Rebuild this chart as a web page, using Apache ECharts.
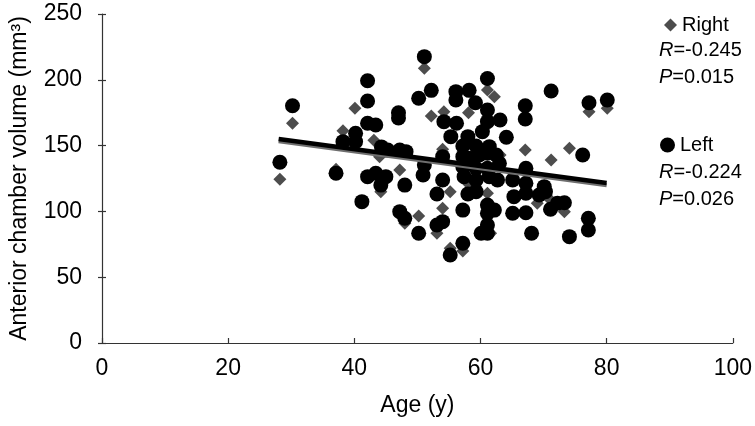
<!DOCTYPE html>
<html>
<head>
<meta charset="utf-8">
<script src="https://cdn.jsdelivr.net/npm/echarts@6/dist/echarts.min.js"></script>
<style>html,body{margin:0;padding:0;background:#fff}#c{width:755px;height:426px}</style>
</head>
<body>
<div id="c"></div>
<script>
// Right eye (diamonds): [age, volume]
const rightData = [
  [28.2,124.4],[30.2,167],[40.1,178.3],[38.2,161.3],[43.1,154],[44,141.6],[47.2,131.5],[37.1,132],
  [44.2,115],[48,91],[51.1,208.7],[61.1,192.2],[62.2,187.2],[54.2,175.8],[52.2,172.5],[58.1,175],
  [54,147.2],[59.2,149.2],[67.1,146.7],[71.2,139],[63.1,142.9],[58,121.4],[55.2,115],[61.1,113.8],
  [69,106.2],[71.1,108.7],[50.2,96.5],[54,102.4],[53.1,83.4],[61.6,83.4],[55.2,72],[57.2,70],
  [77.2,175.8],[80.1,178.3],[74.1,148],[73.3,99.8]
];
// Left eye (circles): [age, volume]
const leftData = [
  [30.2,180.3],[28.2,137.3],[42.1,199.3],[42.1,183.9],[47,175],[47,171],[42.1,167],[43.4,165.7],
  [40.2,159.3],[40.2,153],[38.2,153],[44.3,149],[45.3,146.6],[47.2,146.6],[37.1,129],[42.1,126.4],
  [43.4,129],[45,126.4],[44.2,120],[48,120],[41.2,107.4],[47.2,99.8],[48,94.8],
  [51.1,217.6],[61.1,201],[71.2,191.5],[52.2,192],[50.2,186],[56.1,191],[58.2,192],[56.1,184.7],
  [59.2,182.6],[61.1,177],[67.1,180.3],[67.1,170.2],[54.2,168.2],[56.2,167],[61.1,168.2],[63.1,169.4],
  [60.3,160.6],[55.3,156.8],[58,156.8],[64.1,156.3],[57.2,149.7],[59.3,149.7],[61.4,149.2],[48.2,145.4],
  [54,141.6],[57.2,141.6],[58.2,140.3],[59.8,142.9],[61.1,144.2],[62.5,142.9],[51.1,135.3],[57.2,134],
  [59.3,132.8],[61.1,132.8],[63,136.5],[50.9,127.7],[54,123.9],[67.2,132.8],[57.4,126.4],[59.3,123.9],
  [61.4,126.4],[62.7,123.9],[65.1,123.9],[67.2,121.4],[70.1,118.8],
  [53.1,113.2],[58,113.2],[59.3,115],[65.3,111.2],[67.2,113.8],[69.3,112.5],[70.3,115],[71.1,101.6],
  [72.2,106.2],[57.2,101],[61.1,104.9],[62.2,101],[61.1,98.6],[65.1,98.6],[67.2,99],[53.1,89.7],
  [54,92.2],[50.2,83.4],[60.1,83.4],[61.1,89.7],[61.1,83.4],[68.1,83.4],[57.2,75.8],[55.2,66.9],
  [77.2,182.6],[80.1,184.7],[76.2,142.9],[73.3,106.6],[77.1,94.8],[77.1,85.9],[74.1,80.8]
];
// Trend line end points
const rightTrend = [[28,153.3],[80,119.8]];
const leftTrend = [[28,155],[80,121.6]];
const xTicks = [0,20,40,60,80,100];
const yTicks = [0,50,100,150,200,250];
const rightStats = ['-0.245','0.015'];
const leftStats = ['-0.224','0.026'];

const FONT = 'Liberation Sans, Arial, sans-serif';
const chart = echarts.init(document.getElementById('c'));
const statText = (s) => '{i|R}=' + s[0] + '\n{i|P}=' + s[1];
const richI = {i: {fontStyle:'italic', fontFamily: FONT, fontSize: 20, lineHeight: 27}, };
chart.setOption({
  animation: false,
  grid: {left: 102, right: 21, top: 14, bottom: 83},
  legend: [
    {left: 659, top: 10, itemWidth: 13, itemHeight: 13, itemGap: 0, data: [{name:'Right', icon:'diamond'}],
     textStyle: {fontFamily: FONT, fontSize: 20, color: '#000'}},
    {left: 655, top: 130, itemWidth: 15, itemHeight: 15, itemGap: 0, data: [{name:'Left', icon:'circle'}],
     textStyle: {fontFamily: FONT, fontSize: 20, color: '#000'}}
  ],
  graphic: [
    {type:'text', left: 659, top: 37, style: {text: statText(rightStats), font: '20px ' + FONT, fill:'#000', lineHeight: 27, rich: richI}},
    {type:'text', left: 659, top: 159, style: {text: statText(leftStats), font: '20px ' + FONT, fill:'#000', lineHeight: 27, rich: richI}}
  ],
  xAxis: {
    type: 'value', min: 0, max: 100, interval: 20,
    name: 'Age (y)', nameLocation: 'middle', nameGap: 51,
    nameTextStyle: {fontFamily: FONT, fontSize: 23, color: '#000'},
    axisLine: {lineStyle: {color: '#333', width: 1.2}},
    axisTick: {inside: true, length: 5, lineStyle: {color: '#333', width: 1.2}},
    axisLabel: {fontFamily: FONT, fontSize: 23, color: '#000', margin: 14},
    splitLine: {show: false}
  },
  yAxis: [{
    type: 'value', min: 0, max: 250, interval: 50,
    name: 'Anterior chamber volume (mm\u00b3)', nameLocation: 'middle', nameGap: 71, nameRotate: 90,
    nameTextStyle: {fontFamily: FONT, fontSize: 23, color: '#000'},
    axisLine: {show: true, lineStyle: {color: '#333', width: 1.2}},
    axisTick: {show: true, length: 4, lineStyle: {color: '#333', width: 1.2}},
    axisLabel: {fontFamily: FONT, fontSize: 23, color: '#000', margin: 20},
    splitLine: {show: false}
  },{
    type: 'value', min: 0, max: 250, interval: 50, position: 'left',
    axisLine: {show: false}, axisLabel: {show: false}, splitLine: {show: false},
    axisTick: {show: true, inside: true, length: 4, lineStyle: {color: '#333', width: 1.2}}
  }],
  series: [
    {name: 'Right', type: 'scatter', data: rightData, symbol: 'diamond', symbolSize: 13,
     itemStyle: {color: '#4d4d4d', opacity: 1}, z: 2},
    {name: 'Left', type: 'scatter', data: leftData, symbol: 'circle', symbolSize: 15,
     itemStyle: {color: '#000', opacity: 1}, z: 3},
    {name: 'RightTrend', type: 'line', data: rightTrend, symbol: 'none', lineStyle: {color: '#6e6e6e', width: 4}, z: 4},
    {name: 'LeftTrend', type: 'line', data: leftTrend, symbol: 'none', lineStyle: {color: '#000', width: 4.5}, z: 5}
  ]
});
</script>
</body>
</html>
